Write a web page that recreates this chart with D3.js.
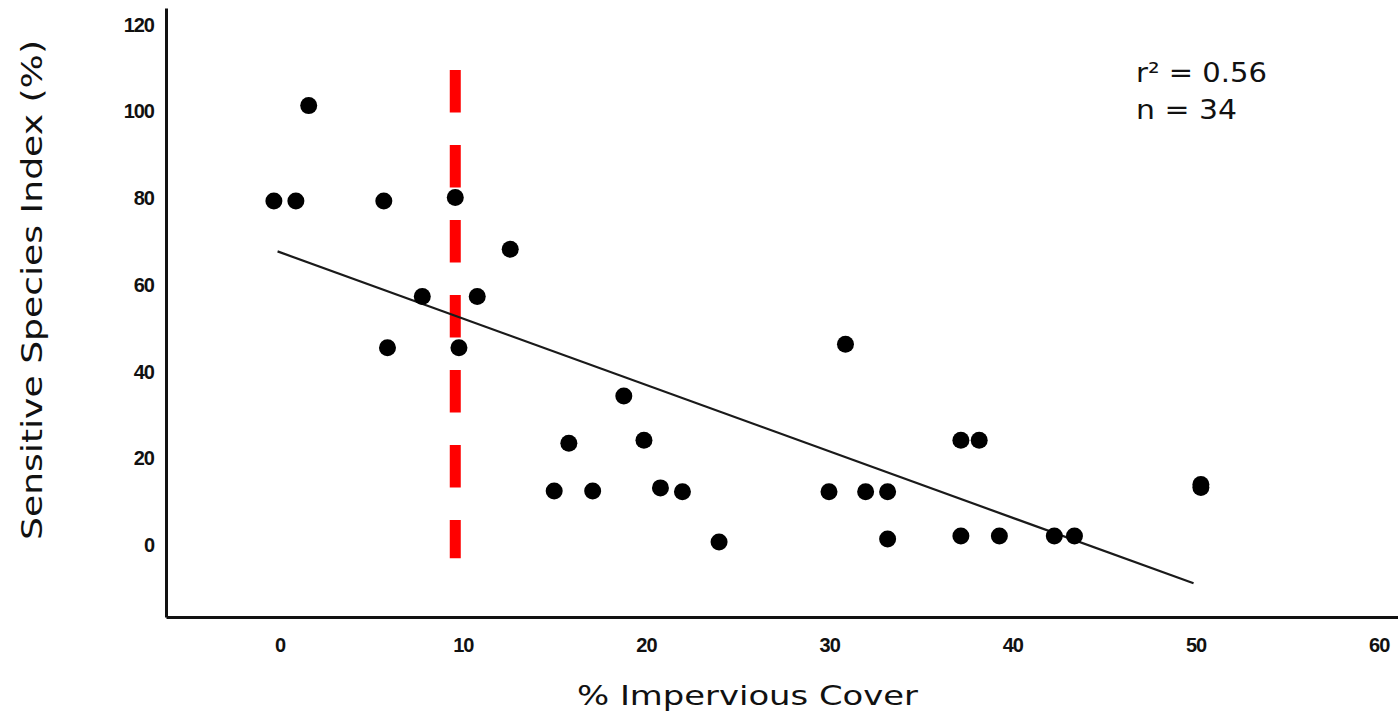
<!DOCTYPE html>
<html>
<head>
<meta charset="utf-8">
<script src="https://cdn.jsdelivr.net/npm/d3@7"></script>
<style>
  html, body { margin: 0; padding: 0; background: #fff; }
  svg { display: block; }
</style>
</head>
<body>
<svg id="chart" width="1398" height="714"></svg>
<script>
// ---- data ----
const imperviousCover = [1.7, -0.2, 1.0, 5.8, 9.7, 12.7, 7.9, 10.9, 6.0, 9.9,
  18.9, 15.9, 20.0, 15.1, 17.2, 20.9, 22.1, 24.1, 31.0, 30.1,
  32.1, 33.3, 33.3, 37.3, 38.3, 37.3, 39.4, 42.4, 43.5, 50.4, 50.4];
const sensitiveIndex = [101.2, 79.2, 79.2, 79.2, 80.0, 68.1, 57.2, 57.2, 45.4, 45.4,
  34.3, 23.4, 24.1, 12.4, 12.4, 13.1, 12.2, 0.6, 46.2, 12.2,
  12.2, 12.2, 1.3, 24.1, 24.1, 2.0, 2.0, 2.0, 2.0, 13.9, 13.2];
const fitX = [0, 50];
const fitY = [67.6, -8.9];
const thresholdX = 9.7;
const thresholdY = [109.4, -3.1];
const xTicks = [0, 10, 20, 30, 40, 50, 60];
const yTicks = [0, 20, 40, 60, 80, 100, 120];
const xTitle = "% Impervious Cover";
const yTitle = "Sensitive Species Index (%)";
const statLines = ["r² = 0.56", "n = 34"];

// ---- scales ----
const svg = d3.select("#chart");
const x = d3.scaleLinear().domain([-6.09, 61.16]).range([166, 1398]);
const y = d3.scaleLinear().domain([-16.66, 123.7]).range([617, 8]);

// ---- axes ----
const xAxis = d3.axisBottom(x).tickValues(xTicks).tickSize(0).tickPadding(28).tickFormat(d3.format("d"));
const yAxis = d3.axisLeft(y).tickValues(yTicks).tickSize(0).tickPadding(12).tickFormat(d3.format("d"));

const gx = svg.append("g").attr("transform", "translate(0,617)").call(xAxis);
const gy = svg.append("g").attr("transform", "translate(166,0)").call(yAxis);

[gx, gy].forEach(g => {
  g.select(".domain").attr("stroke", "#111").attr("stroke-width", 3);
  g.selectAll(".tick text")
    .attr("fill", "#111")
    .style("font-family", "'Liberation Sans', Arial, sans-serif")
    .style("font-weight", "bold")
    .style("font-size", "20px")
    .style("letter-spacing", "-1px");
});
gx.selectAll(".tick text").attr("dy", "0.35em").attr("dx", "2");
gy.selectAll(".tick text").attr("dy", "0.35em");

// ---- threshold red dashed line ----
svg.append("line")
  .attr("x1", x(thresholdX)).attr("x2", x(thresholdX))
  .attr("y1", y(thresholdY[0])).attr("y2", y(thresholdY[1]))
  .attr("stroke", "#ff0000")
  .attr("stroke-width", 11)
  .attr("stroke-dasharray", "42.5,32.5");

// ---- regression line ----
svg.append("line")
  .attr("x1", x(fitX[0])).attr("y1", y(fitY[0]))
  .attr("x2", x(fitX[1])).attr("y2", y(fitY[1]))
  .attr("stroke", "#1a1a1a")
  .attr("stroke-width", 2.2);

// ---- points ----
svg.append("g").selectAll("circle")
  .data(imperviousCover.map((v, i) => [v, sensitiveIndex[i]]))
  .join("circle")
  .attr("cx", d => x(d[0]))
  .attr("cy", d => y(d[1]))
  .attr("r", 8.5)
  .attr("fill", "#000");

// ---- titles ----
svg.append("text")
  .attr("x", 577).attr("y", 705)
  .attr("textLength", 341).attr("lengthAdjust", "spacingAndGlyphs")
  .style("font-family", "'DejaVu Sans', sans-serif")
  .style("font-size", "27px")
  .attr("fill", "#111")
  .text(xTitle);

svg.append("text")
  .attr("transform", "translate(42,540) rotate(-90)")
  .attr("x", 0).attr("y", 0)
  .attr("textLength", 500).attr("lengthAdjust", "spacingAndGlyphs")
  .style("font-family", "'DejaVu Sans', sans-serif")
  .style("font-size", "28px")
  .attr("fill", "#111")
  .text(yTitle);

// ---- stats annotation ----
const statWidths = [131, 101];
const statY = [82, 119];
statLines.forEach((t, i) => {
  svg.append("text")
    .attr("x", 1136).attr("y", statY[i])
    .attr("textLength", statWidths[i]).attr("lengthAdjust", "spacingAndGlyphs")
    .style("font-family", "'DejaVu Sans', sans-serif")
    .style("font-size", "26px")
    .attr("fill", "#111")
    .text(t);
});
</script>
</body>
</html>
